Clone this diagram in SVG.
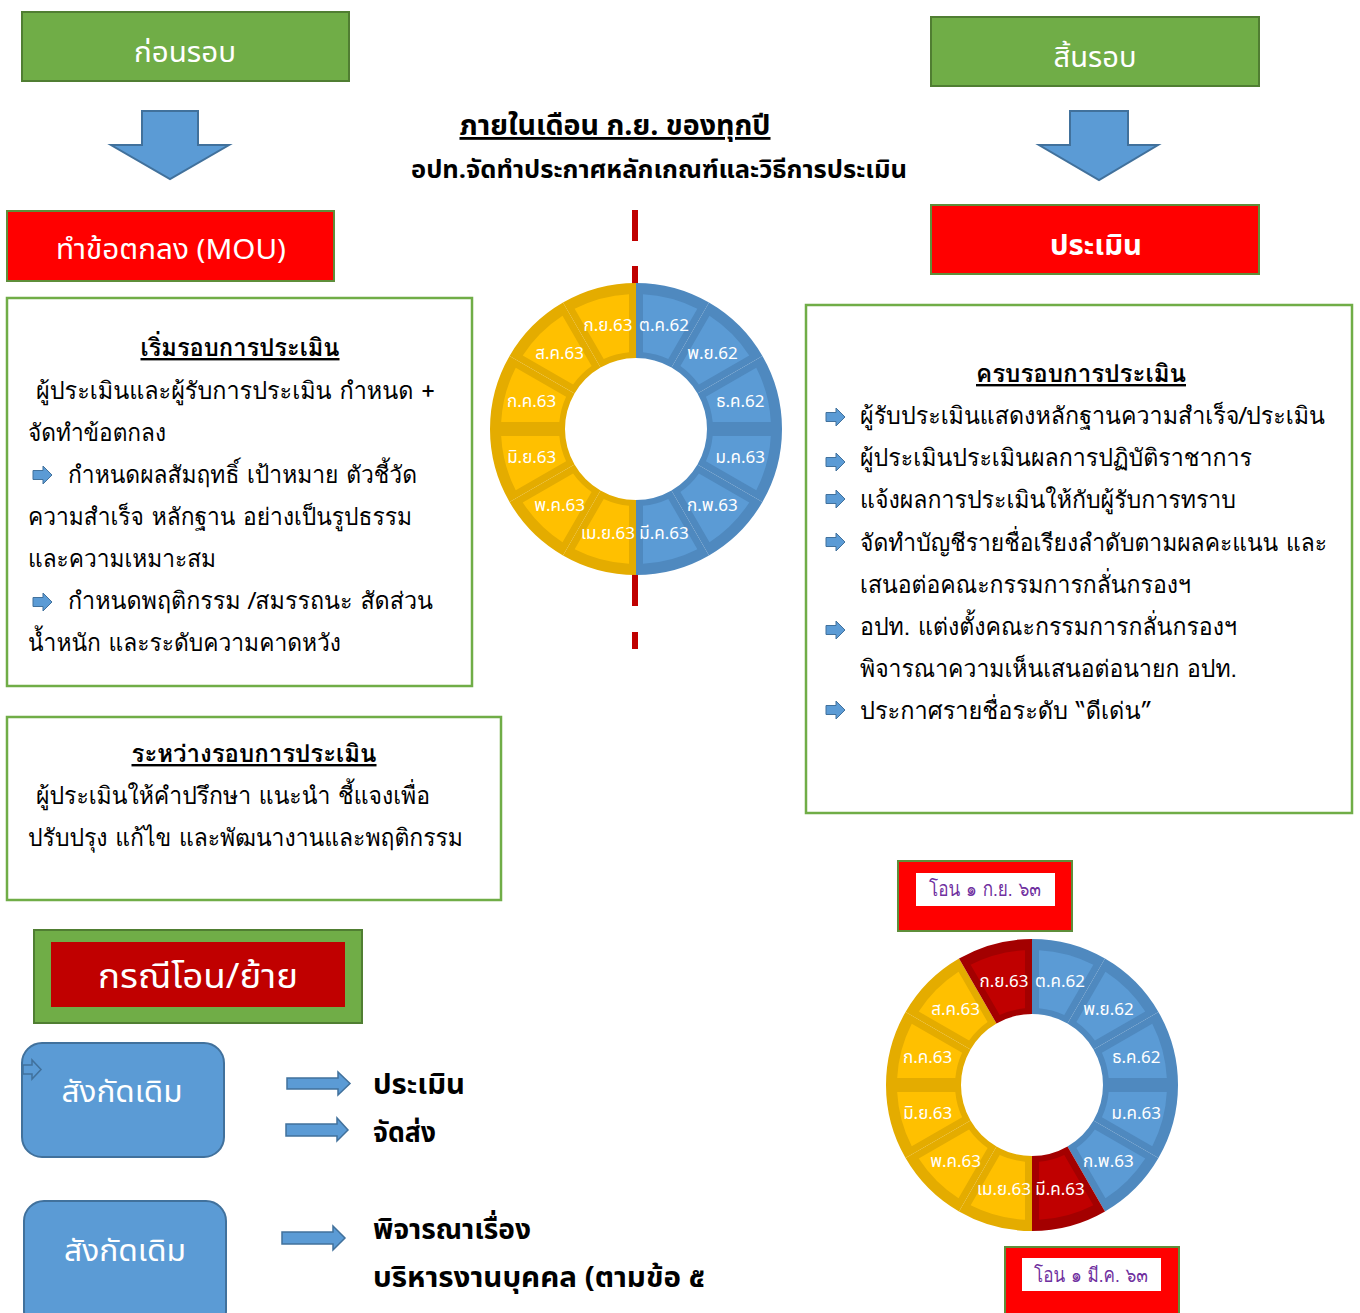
<svg xmlns="http://www.w3.org/2000/svg" xmlns:xlink="http://www.w3.org/1999/xlink" width="1360" height="1313" viewBox="0 0 1360 1313">
<style>
.g{fill:#70AD47;stroke:#507E32;stroke-width:2}
.r{fill:#FF0000;stroke:#5E8E3A;stroke-width:2}
.panel{fill:#FFFFFF;stroke:#70AD47;stroke-width:2.5}
.ba{fill:#5B9BD5;stroke:#41719C;stroke-width:2}
.sa{fill:#5B9BD5;stroke:#41719C;stroke-width:1.5}
.bd{fill:#4F89BF}.bl{fill:#5B9BD5}
.yd{fill:#E4AC00}.yl{fill:#FFC000}
.rd{fill:#A30000}.rl{fill:#C00000}
.hd{font-family:"Noto Sans Thai","Noto Sans","DejaVu Sans",sans-serif}
.bt{font-family:"Loma","Garuda","Waree","Tlwg Typo","Noto Sans Thai Looped","Noto Sans Thai","Noto Sans","DejaVu Sans",sans-serif;font-size:24px;fill:#000}
.w{fill:#FFFFFF}
.k{fill:#000000}
.b{font-weight:bold}
.u{text-decoration:underline}
.lab{font-family:"Noto Sans Thai","Noto Sans","DejaVu Sans",sans-serif;font-size:17px;fill:#FFFFFF;text-anchor:middle}
.tag{font-family:"Loma","Garuda","Noto Sans Thai Looped","Noto Sans Thai","Noto Sans",sans-serif;font-size:20px;fill:#7030A0;text-anchor:middle}
</style>
<defs>
<path id="wd" d="M0,-146 A146,146 0 0 1 73,-126.44 L35.5,-61.49 A71,71 0 0 0 0,-71 Z"/>
<path id="wl" d="M7,-134.82 A135,135 0 0 1 61.35,-120.26 L32.28,-69.91 A77,77 0 0 0 7,-76.68 Z"/>
<path id="bul" d="M0,-4.5 H10 V-9 L19,0 L10,9 V4.5 H0 Z" fill="#5B9BD5" stroke="#41719C" stroke-width="1"/>
</defs>
<rect x="0" y="0" width="1360" height="1313" fill="#FFFFFF"/>

<g id="connectors">
<g id="sep-line" fill="#C00000">
<rect x="632" y="210" width="6" height="31"/>
<rect x="632" y="266" width="6" height="20"/>
<rect x="632" y="574" width="6" height="32"/>
<rect x="632" y="632" width="6" height="17"/>
</g>
<polygon class="ba" points="142,111 198,111 198,145 229,145 170,179 111,145 142,145"/>
<polygon class="ba" points="1070,111 1128,111 1128,145 1158,145 1099,180 1039,145 1070,145"/>
<polygon class="sa" points="287,1078 338,1078 338,1072 350,1083.5 338,1095 338,1089 287,1089"/>
<polygon class="sa" points="286,1124 337,1124 337,1118 348,1130 337,1141 337,1136 286,1136"/>
<polygon class="sa" points="282,1232 333,1232 333,1226 345,1238 333,1250 333,1244 282,1244"/>
</g>

<g id="n-before">
<rect class="g" x="22" y="12" width="327" height="69"/>
<text class="hd w" x="185" y="62" font-size="28" text-anchor="middle" textLength="102" lengthAdjust="spacingAndGlyphs">ก่อนรอบ</text>
</g>

<g id="n-end">
<rect class="g" x="931" y="17" width="328" height="69"/>
<text class="hd w" x="1095" y="67" font-size="28" text-anchor="middle" textLength="83" lengthAdjust="spacingAndGlyphs">สิ้นรอบ</text>
</g>

<g id="n-mou">
<rect class="r" x="7" y="211" width="327" height="70"/>
<text class="hd w" x="171" y="259" font-size="28" text-anchor="middle" textLength="230" lengthAdjust="spacingAndGlyphs">ทำข้อตกลง (MOU)</text>
</g>

<g id="n-eval">
<rect class="r" x="931" y="205" width="328" height="69"/>
<text class="hd w b" x="1096" y="255" font-size="28" text-anchor="middle" textLength="92" lengthAdjust="spacingAndGlyphs">ประเมิน</text>
</g>

<g id="n-title">
<text class="hd k b u" x="615" y="135" font-size="28" text-anchor="middle" textLength="311" lengthAdjust="spacingAndGlyphs">ภายในเดือน ก.ย. ของทุกปี</text>
<text class="hd k b" x="659" y="178" font-size="24" text-anchor="middle" textLength="496" lengthAdjust="spacingAndGlyphs">อปท.จัดทำประกาศหลักเกณฑ์และวิธีการประเมิน</text>
</g>

<g id="n-start">
<rect class="panel" x="7" y="298" width="465" height="388"/>
<text class="bt b u" x="240" y="356" font-size="26" text-anchor="middle" textLength="199" lengthAdjust="spacingAndGlyphs">เริ่มรอบการประเมิน</text>
<text class="bt" x="36" y="399" textLength="399" lengthAdjust="spacingAndGlyphs">ผู้ประเมินและผู้รับการประเมิน กำหนด +</text>
<text class="bt" x="28" y="441" textLength="138" lengthAdjust="spacingAndGlyphs">จัดทำข้อตกลง</text>
<use href="#bul" x="33" y="475"/>
<text class="bt" x="68" y="483" textLength="349" lengthAdjust="spacingAndGlyphs">กำหนดผลสัมฤทธิ์ เป้าหมาย ตัวชี้วัด</text>
<text class="bt" x="28" y="525" textLength="384" lengthAdjust="spacingAndGlyphs">ความสำเร็จ หลักฐาน อย่างเป็นรูปธรรม</text>
<text class="bt" x="28" y="567" textLength="188" lengthAdjust="spacingAndGlyphs">และความเหมาะสม</text>
<use href="#bul" x="33" y="602"/>
<text class="bt" x="68" y="609" textLength="365" lengthAdjust="spacingAndGlyphs">กำหนดพฤติกรรม /สมรรถนะ สัดส่วน</text>
<text class="bt" x="28" y="651" textLength="313" lengthAdjust="spacingAndGlyphs">น้ำหนัก และระดับความคาดหวัง</text>
</g>

<g id="n-during">
<rect class="panel" x="7" y="717" width="494" height="183"/>
<text class="bt b u" x="254" y="762" font-size="26" text-anchor="middle" textLength="245" lengthAdjust="spacingAndGlyphs">ระหว่างรอบการประเมิน</text>
<text class="bt" x="36" y="804" textLength="394" lengthAdjust="spacingAndGlyphs">ผู้ประเมินให้คำปรึกษา แนะนำ ชี้แจงเพื่อ</text>
<text class="bt" x="28" y="846" textLength="435" lengthAdjust="spacingAndGlyphs">ปรับปรุง แก้ไข และพัฒนางานและพฤติกรรม</text>
</g>

<g id="n-complete">
<rect class="panel" x="806" y="305" width="546" height="508"/>
<text class="bt b u" x="1081" y="382" font-size="26" text-anchor="middle" textLength="210" lengthAdjust="spacingAndGlyphs">ครบรอบการประเมิน</text>
<use href="#bul" x="826" y="417"/>
<text class="bt" x="860" y="424" textLength="465" lengthAdjust="spacingAndGlyphs">ผู้รับประเมินแสดงหลักฐานความสำเร็จ/ประเมิน</text>
<use href="#bul" x="826" y="462"/>
<text class="bt" x="860" y="466" textLength="392" lengthAdjust="spacingAndGlyphs">ผู้ประเมินประเมินผลการปฏิบัติราชาการ</text>
<use href="#bul" x="826" y="499"/>
<text class="bt" x="860" y="508" textLength="376" lengthAdjust="spacingAndGlyphs">แจ้งผลการประเมินให้กับผู้รับการทราบ</text>
<use href="#bul" x="826" y="542"/>
<text class="bt" x="860" y="551" textLength="467" lengthAdjust="spacingAndGlyphs">จัดทำบัญชีรายชื่อเรียงลำดับตามผลคะแนน และ</text>
<text class="bt" x="860" y="593" textLength="331" lengthAdjust="spacingAndGlyphs">เสนอต่อคณะกรรมการกลั่นกรองฯ</text>
<use href="#bul" x="826" y="630"/>
<text class="bt" x="860" y="635" textLength="377" lengthAdjust="spacingAndGlyphs">อปท. แต่งตั้งคณะกรรมการกลั่นกรองฯ</text>
<text class="bt" x="860" y="677" textLength="377" lengthAdjust="spacingAndGlyphs">พิจารณาความเห็นเสนอต่อนายก อปท.</text>
<use href="#bul" x="826" y="710"/>
<text class="bt" x="860" y="719" textLength="292" lengthAdjust="spacingAndGlyphs">ประกาศรายชื่อระดับ “ดีเด่น”</text>
</g>

<g id="n-donut1" transform="translate(636,429)">
<use href="#wd" class="bd" transform="rotate(0)"/><use href="#wl" class="bl" transform="rotate(0)"/>
<use href="#wd" class="bd" transform="rotate(30)"/><use href="#wl" class="bl" transform="rotate(30)"/>
<use href="#wd" class="bd" transform="rotate(60)"/><use href="#wl" class="bl" transform="rotate(60)"/>
<use href="#wd" class="bd" transform="rotate(90)"/><use href="#wl" class="bl" transform="rotate(90)"/>
<use href="#wd" class="bd" transform="rotate(120)"/><use href="#wl" class="bl" transform="rotate(120)"/>
<use href="#wd" class="bd" transform="rotate(150)"/><use href="#wl" class="bl" transform="rotate(150)"/>
<use href="#wd" class="yd" transform="rotate(180)"/><use href="#wl" class="yl" transform="rotate(180)"/>
<use href="#wd" class="yd" transform="rotate(210)"/><use href="#wl" class="yl" transform="rotate(210)"/>
<use href="#wd" class="yd" transform="rotate(240)"/><use href="#wl" class="yl" transform="rotate(240)"/>
<use href="#wd" class="yd" transform="rotate(270)"/><use href="#wl" class="yl" transform="rotate(270)"/>
<use href="#wd" class="yd" transform="rotate(300)"/><use href="#wl" class="yl" transform="rotate(300)"/>
<use href="#wd" class="yd" transform="rotate(330)"/><use href="#wl" class="yl" transform="rotate(330)"/>
<text class="lab" x="28" y="-98">ต.ค.62</text>
<text class="lab" x="76.4" y="-70">พ.ย.62</text>
<text class="lab" x="104.3" y="-22">ธ.ค.62</text>
<text class="lab" x="104.3" y="34">ม.ค.63</text>
<text class="lab" x="76.4" y="82">ก.พ.63</text>
<text class="lab" x="28" y="110">มี.ค.63</text>
<text class="lab" x="-28" y="110">เม.ย.63</text>
<text class="lab" x="-76.4" y="82">พ.ค.63</text>
<text class="lab" x="-104.3" y="34">มิ.ย.63</text>
<text class="lab" x="-104.3" y="-22">ก.ค.63</text>
<text class="lab" x="-76.4" y="-70">ส.ค.63</text>
<text class="lab" x="-28" y="-98">ก.ย.63</text>
</g>

<g id="n-transfer">
<rect x="34" y="930" width="328" height="93" fill="#70AD47" stroke="#507E32" stroke-width="2"/>
<rect x="51" y="942" width="294" height="65" fill="#C00000"/>
<text class="hd w" x="198" y="988" font-size="34" text-anchor="middle" textLength="200" lengthAdjust="spacingAndGlyphs">กรณีโอน/ย้าย</text>
</g>

<g id="n-orig1">
<rect x="22" y="1043" width="202" height="114" rx="20" ry="20" class="ba"/>
<polygon points="23,1065 32,1065 32,1060 41,1069.5 32,1079 32,1074 23,1074" fill="#5B9BD5" stroke="#41719C" stroke-width="1.5"/>
<text class="hd w" x="122" y="1102" font-size="30" text-anchor="middle" textLength="121" lengthAdjust="spacingAndGlyphs">สังกัดเดิม</text>
</g>

<g id="n-orig2">
<rect x="24" y="1201" width="202" height="130" rx="20" ry="20" class="ba"/>
<text class="hd w" x="125" y="1261" font-size="30" text-anchor="middle" textLength="122" lengthAdjust="spacingAndGlyphs">สังกัดเดิม</text>
</g>

<g id="n-actions">
<text class="hd k b" x="373" y="1094" font-size="28" textLength="92" lengthAdjust="spacingAndGlyphs">ประเมิน</text>
<text class="hd k b" x="373" y="1142" font-size="28" textLength="63" lengthAdjust="spacingAndGlyphs">จัดส่ง</text>
<text class="hd k b" x="373" y="1239" font-size="28" textLength="158" lengthAdjust="spacingAndGlyphs">พิจารณาเรื่อง</text>
<text class="hd k b" x="373" y="1287" font-size="28" textLength="332" lengthAdjust="spacingAndGlyphs">บริหารงานบุคคล (ตามข้อ ๕</text>
</g>

<g id="n-tag-sep">
<rect x="898" y="861" width="174" height="70" fill="#FF0000" stroke="#5E8E3A" stroke-width="2"/>
<rect x="916" y="873" width="139" height="33" fill="#FFFFFF"/>
<text class="tag" x="985" y="896" textLength="112" lengthAdjust="spacingAndGlyphs">โอน ๑ ก.ย. ๖๓</text>
</g>

<g id="n-donut2" transform="translate(1032,1085)">
<use href="#wd" class="bd" transform="rotate(0)"/><use href="#wl" class="bl" transform="rotate(0)"/>
<use href="#wd" class="bd" transform="rotate(30)"/><use href="#wl" class="bl" transform="rotate(30)"/>
<use href="#wd" class="bd" transform="rotate(60)"/><use href="#wl" class="bl" transform="rotate(60)"/>
<use href="#wd" class="bd" transform="rotate(90)"/><use href="#wl" class="bl" transform="rotate(90)"/>
<use href="#wd" class="bd" transform="rotate(120)"/><use href="#wl" class="bl" transform="rotate(120)"/>
<use href="#wd" class="rd" transform="rotate(150)"/><use href="#wl" class="rl" transform="rotate(150)"/>
<use href="#wd" class="yd" transform="rotate(180)"/><use href="#wl" class="yl" transform="rotate(180)"/>
<use href="#wd" class="yd" transform="rotate(210)"/><use href="#wl" class="yl" transform="rotate(210)"/>
<use href="#wd" class="yd" transform="rotate(240)"/><use href="#wl" class="yl" transform="rotate(240)"/>
<use href="#wd" class="yd" transform="rotate(270)"/><use href="#wl" class="yl" transform="rotate(270)"/>
<use href="#wd" class="yd" transform="rotate(300)"/><use href="#wl" class="yl" transform="rotate(300)"/>
<use href="#wd" class="rd" transform="rotate(330)"/><use href="#wl" class="rl" transform="rotate(330)"/>
<text class="lab" x="28" y="-98">ต.ค.62</text>
<text class="lab" x="76.4" y="-70">พ.ย.62</text>
<text class="lab" x="104.3" y="-22">ธ.ค.62</text>
<text class="lab" x="104.3" y="34">ม.ค.63</text>
<text class="lab" x="76.4" y="82">ก.พ.63</text>
<text class="lab" x="28" y="110">มี.ค.63</text>
<text class="lab" x="-28" y="110">เม.ย.63</text>
<text class="lab" x="-76.4" y="82">พ.ค.63</text>
<text class="lab" x="-104.3" y="34">มิ.ย.63</text>
<text class="lab" x="-104.3" y="-22">ก.ค.63</text>
<text class="lab" x="-76.4" y="-70">ส.ค.63</text>
<text class="lab" x="-28" y="-98">ก.ย.63</text>
</g>

<g id="n-tag-mar">
<rect x="1005" y="1247" width="174" height="80" fill="#FF0000" stroke="#5E8E3A" stroke-width="2"/>
<rect x="1022" y="1258" width="139" height="33" fill="#FFFFFF"/>
<text class="tag" x="1091" y="1282" textLength="114" lengthAdjust="spacingAndGlyphs">โอน ๑ มี.ค. ๖๓</text>
</g>
</svg>
